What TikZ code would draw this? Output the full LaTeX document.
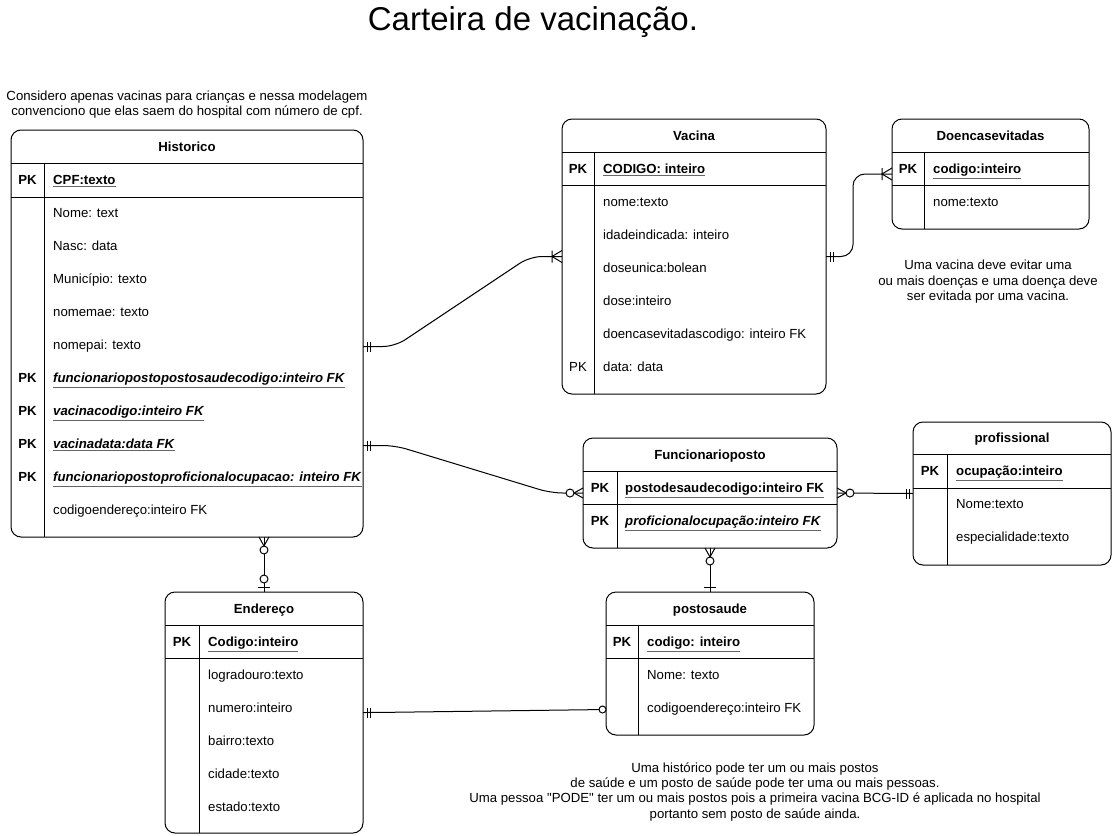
\documentclass[tikz,border=0pt]{standalone}
\usepackage{fontspec}
\setmainfont{Liberation Sans}[Ligatures=TeXOff]
\usetikzlibrary{calc}
\newcommand{\pkt}[1]{{\color{black!60}\underline{\color{black}\textbf{#1}}}}
\newcommand{\pki}[1]{{\color{black!60}\underline{\color{black}\textbf{\textit{#1}}}}}
\newcommand{\ertab}[9]{%
  \node[tbl, minimum width={#4-#2}, minimum height={#5-#3}, anchor=north west] (#1) at (#2,#3) {};
  \draw[sep] (#2,#7) -- (#4,#7) (#2,#8) -- (#4,#8) (#6,#7) -- (#6,#5);
  \node[hdr] (#1-h) at ({(#2+#4)/2},{(#3+#7)/2}) {#9};
}
\tikzset{
  tbl/.style={draw, line width=1pt, rounded corners=10pt, inner sep=0pt, outer sep=0pt},
  sep/.style={line width=1pt},
  hdr/.style={font=\fontsize{13.2}{15}\selectfont\bfseries, inner sep=0pt, text height=9.4pt, text depth=2.8pt, yshift=-1.5pt},
  pkl/.style={font=\fontsize{13.2}{15}\selectfont\bfseries, inner sep=0pt, text height=9.4pt, text depth=2.8pt, yshift=-1.5pt},
  pkr/.style={font=\fontsize{13.2}{15}\selectfont, inner sep=0pt, text height=9.4pt, text depth=2.8pt, yshift=-1.5pt},
  attr/.style={anchor=west, font=\fontsize{13.2}{15}\selectfont, inner sep=0pt, text height=9.4pt, text depth=2.8pt, yshift=-1.5pt},
  note/.style={align=center, font=\fontsize{13.2}{15.3}\selectfont, inner sep=0pt, yshift=-1.8pt},
  conn/.style={line width=1pt, rounded corners=12pt},
  pics/mone/.style={code={\draw[line width=1pt] (4,-5)--(4,5) (7,-5)--(7,5);}},
  pics/one/.style={code={\draw[line width=1pt] (5,-6)--(5,6);}},
  pics/onemany/.style={code={\draw[line width=1pt] (0,-6)--(10,0)--(0,6) (10,-6)--(10,6);}},
  pics/zeromany/.style={code={\draw[line width=1pt] (0,-5)--(9,0)--(0,5); \draw[line width=1pt, fill=white] (13,0) circle (4pt);}},
  pics/zeroone/.style={code={\draw[line width=1pt] (5,-6)--(5,6); \draw[line width=1pt, fill=white] (13,0) circle (4pt);}},
  pics/oval/.style={code={\draw[line width=1pt, fill=white] (3.5,0) circle (3.5pt);}},
}
\begin{document}
\begin{tikzpicture}[x=1pt, y=-1pt]
\useasboundingbox (0,0) rectangle (1113,835);

% title
\node[font=\fontsize{33}{39}\selectfont, inner sep=0pt] (title) at (533,22) {Carteira de vacinação.};

% notes
\node[note] (n1) at (187,102.5) {Considero apenas vacinas para crianças e nessa modelagem\\convenciono que elas saem do hospital com número de cpf.};
\node[note] (n2) at (988,280) {Uma vacina deve evitar uma\\ou mais doenças e uma doença deve\\ser evitada por uma vacina.};
\node[note] (n3) at (755,790) {Uma histórico pode ter um ou mais postos\\de saúde e um posto de saúde pode ter uma ou mais pessoas.\\Uma pessoa "PODE" ter um ou mais postos pois a primeira vacina BCG-ID é aplicada no hospital\\portanto sem posto de saúde ainda.};

% Historico
\ertab{hist}{11}{130}{363}{537}{44}{163}{197}{Historico}
\node[pkl] at (27.5,180) {PK};
\node[attr] (hcpf) at (53,180) {\pkt{CPF:texto}};
\node[attr] (hnome) at (53,213) {Nome: text};
\node[attr] (hnasc) at (53,246) {Nasc: data};
\node[attr] (hmun) at (53,279) {Município: texto};
\node[attr] (hmae) at (53,312) {nomemae: texto};
\node[attr] (hpai) at (53,345) {nomepai: texto};
\node[pkl] at (27.5,378) {PK};
\node[attr] (hfpps) at (53,378) {\pki{funcionariopostopostosaudecodigo:inteiro FK}};
\node[pkl] at (27.5,411) {PK};
\node[attr] (hvc) at (53,411) {\pki{vacinacodigo:inteiro FK}};
\node[pkl] at (27.5,444) {PK};
\node[attr] (hvd) at (53,444) {\pki{vacinadata:data FK}};
\node[pkl] at (27.5,477) {PK};
\node[attr] (hfppo) at (53,477) {\pki{funcionariopostoproficionalocupacao: inteiro FK}};
\node[attr] (hce) at (53,510) {codigoendereço:inteiro FK};

% Vacina
\ertab{vac}{562}{119}{826}{394}{594}{152}{185}{Vacina}
\node[pkl] at (578,169) {PK};
\node[attr] (vcod) at (603,169) {\pkt{CODIGO: inteiro}};
\node[attr] (vnome) at (603,202) {nome:texto};
\node[attr] (vid) at (603,235) {idadeindicada: inteiro};
\node[attr] (vdu) at (603,268) {doseunica:bolean};
\node[attr] (vdose) at (603,301) {dose:inteiro};
\node[attr] (vdoe) at (603,334) {doencasevitadascodigo: inteiro FK};
\node[pkr] at (578,367) {PK};
\node[attr] (vdata) at (603,367) {data: data};

% Doencasevitadas
\ertab{doe}{892}{119}{1089}{229}{924}{152}{185}{Doencasevitadas}
\node[pkl] at (908,169) {PK};
\node[attr] (dcod) at (933,169) {\pkt{codigo:inteiro}};
\node[attr] (dnome) at (933,202) {nome:texto};

% Funcionarioposto
\ertab{func}{583}{438}{837}{548}{617}{471}{504}{Funcionarioposto}
\node[pkl] at (600,488) {PK};
\node[attr] (fpc) at (625,488) {\pkt{postodesaudecodigo:inteiro FK}};
\node[pkl] at (600,521) {PK};
\node[attr] (fpo) at (625,521) {\pki{proficionalocupação:inteiro FK}};

% profissional
\ertab{prof}{913}{422}{1111}{565}{947}{454}{488}{profissional}
\node[pkl] at (930,471) {PK};
\node[attr] (pocu) at (956,471) {\pkt{ocupação:inteiro}};
\node[attr] (pnome) at (956,504) {Nome:texto};
\node[attr] (pesp) at (956,537) {especialidade:texto};

% Endereco
\ertab{end}{165}{592}{363}{833}{199}{625}{658}{Endereço}
\node[pkl] at (182,642) {PK};
\node[attr] (ecod) at (208,642) {\pkt{Codigo:inteiro}};
\node[attr] (elog) at (208,675) {logradouro:texto};
\node[attr] (enum) at (208,708) {numero:inteiro};
\node[attr] (ebai) at (208,741) {bairro:texto};
\node[attr] (ecid) at (208,774) {cidade:texto};
\node[attr] (eest) at (208,807) {estado:texto};

% postosaude
\ertab{pos}{606}{592}{814}{735}{638}{625}{658}{postosaude}
\node[pkl] at (622,642) {PK};
\node[attr] (scod) at (647,642) {\pkt{codigo: inteiro}};
\node[attr] (snome) at (647,675) {Nome: texto};
\node[attr] (sce) at (647,708) {codigoendereço:inteiro FK};

% connectors
\coordinate (c1) at (hist.east |- hpai);
\coordinate (c3) at (hist.east |- hvd);
\coordinate (c5) at (hist.south -| end.north);
\coordinate (c7) at (pos.west |- sce);
\draw[conn] (c1) -- ++(32,0) -- ($(vac.west)+(-32,0)$) -- (vac.west);
\draw[conn] (vac.east) -- ++(27,0) |- (doe.west);
\draw[conn] (c3) -- ++(32,0) -- ($(func.west)+(-32,0)$) -- (func.west);
\draw[conn] (func.east) -- (prof.west);
\draw[conn] (c5) -- (end.north);
\draw[conn] (func.south) -- (pos.north);
\draw[conn] (end.east) -- ++(12,0) -- (c7);

% markers
\pic at (c1) {mone};
\pic[rotate=180] at (vac.west) {onemany};
\pic at (vac.east) {mone};
\pic[rotate=180] at (doe.west) {onemany};
\pic at (c3) {mone};
\pic[rotate=180] at (func.west) {zeromany};
\pic at (func.east) {zeromany};
\pic[rotate=180] at (prof.west) {mone};
\pic[rotate=-90] at (c5) {zeromany};
\pic[rotate=90] at (end.north) {zeroone};
\pic[rotate=-90] at (func.south) {zeromany};
\pic[rotate=90] at (pos.north) {one};
\pic at (end.east) {mone};
\pic[rotate=180] at (c7) {oval};
\end{tikzpicture}
\end{document}
